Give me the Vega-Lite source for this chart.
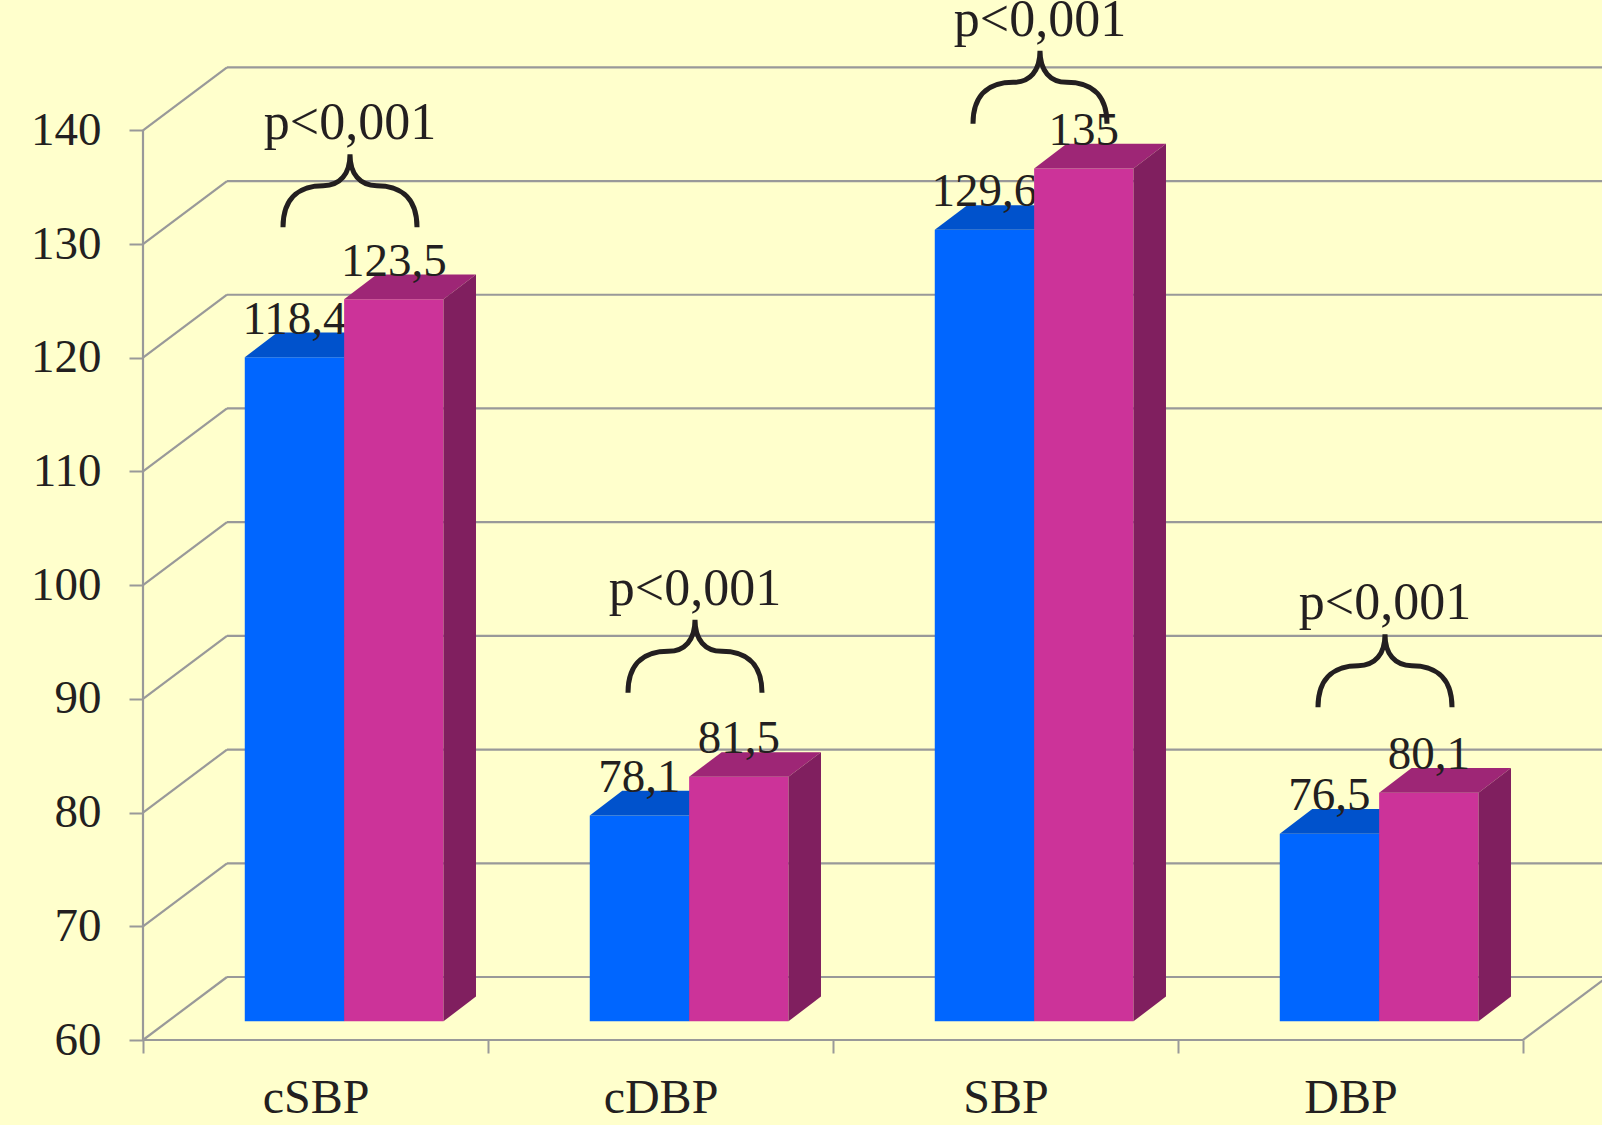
{
  "$schema": "https://vega.github.io/schema/vega-lite/v6.json",
  "width": 1459,
  "height": 1040,
  "autosize": {"type": "none"},
  "padding": {"left": 143, "top": 0, "right": 0, "bottom": 85},
  "background": "#FFFFCC",
  "config": {"view": {"stroke": null}},
  "resolve": {"axis": {"x": "independent", "y": "independent"}},
  "datasets": {
    "bars": [
      {"group": "cSBP", "series": "A", "value": 118.4},
      {"group": "cSBP", "series": "B", "value": 123.5},
      {"group": "cDBP", "series": "A", "value": 78.1},
      {"group": "cDBP", "series": "B", "value": 81.5},
      {"group": "SBP", "series": "A", "value": 129.6},
      {"group": "SBP", "series": "B", "value": 135},
      {"group": "DBP", "series": "A", "value": 76.5},
      {"group": "DBP", "series": "B", "value": 80.1}
    ],
    "grid": [
      {"v": 60}, {"v": 70}, {"v": 80}, {"v": 90}, {"v": 100},
      {"v": 110}, {"v": 120}, {"v": 130}, {"v": 140}
    ],
    "notes": [
      {"group": "cSBP", "p": "p<0,001", "level": 137.9},
      {"group": "cDBP", "p": "p<0,001", "level": 96.95},
      {"group": "SBP", "p": "p<0,001", "level": 146.99},
      {"group": "DBP", "p": "p<0,001", "level": 95.69}
    ]
  },
  "layer": [
    {
      "data": {"name": "grid"},
      "transform": [
        {"calculate": "datum.v + 5.54", "as": "vb"},
        {"calculate": "0", "as": "wall0"},
        {"calculate": "0.2435", "as": "wall1"}
      ],
      "mark": {"type": "rule", "color": "#999999", "strokeWidth": 2.2},
      "encoding": {
        "x": {
          "field": "wall0", "type": "quantitative",
          "scale": {"domain": [0, 4.229], "nice": false, "zero": false},
          "axis": {
            "orient": "bottom",
            "values": [0, 1, 2, 3, 4],
            "labelExpr": "datum.value < 4 ? ['cSBP','cDBP','SBP','DBP'][datum.value] : ''",
            "labelOffset": 172.5,
            "domain": false, "grid": false,
            "tickSize": 13, "tickWidth": 2, "tickColor": "#999999",
            "labelFont": "Liberation Serif", "labelFontSize": 48, "labelColor": "#231F20",
            "labelPadding": 21, "labelFlush": false, "labelBound": false, "labelOverlap": false,
            "title": null
          }
        },
        "x2": {"field": "wall1"},
        "y": {
          "field": "v", "type": "quantitative",
          "scale": {"domain": [60, 151.46], "nice": false, "zero": false},
          "axis": {
            "orient": "left",
            "values": [60, 70, 80, 90, 100, 110, 120, 130, 140],
            "domain": false, "grid": false,
            "tickSize": 14, "tickWidth": 2, "tickColor": "#999999",
            "labelFont": "Liberation Serif", "labelFontSize": 47, "labelColor": "#231F20",
            "labelPadding": 28, "labelFlush": false, "labelBound": false, "labelOverlap": false,
            "title": null
          }
        },
        "y2": {"field": "vb"}
      }
    },
    {
      "data": {"name": "grid"},
      "transform": [{"calculate": "datum.v + 5.54", "as": "vb"}],
      "mark": {"type": "rule", "color": "#999999", "strokeWidth": 2.2},
      "encoding": {
        "x": {"datum": 0.2435, "type": "quantitative", "axis": null},
        "x2": {"datum": 4.4},
        "y": {"field": "vb", "type": "quantitative", "axis": null}
      }
    },
    {
      "data": {"values": [{}]},
      "mark": {"type": "rule", "color": "#999999", "strokeWidth": 2.2},
      "encoding": {
        "x": {"datum": 0, "type": "quantitative", "axis": null},
        "y": {"datum": 60, "type": "quantitative", "axis": null},
        "y2": {"datum": 140}
      }
    },
    {
      "data": {"values": [{}]},
      "mark": {"type": "rule", "color": "#999999", "strokeWidth": 2.2},
      "encoding": {
        "x": {"datum": 0, "type": "quantitative", "axis": null},
        "x2": {"datum": 4},
        "y": {"datum": 60, "type": "quantitative", "axis": null}
      }
    },
    {
      "data": {"values": [{}]},
      "mark": {"type": "rule", "color": "#999999", "strokeWidth": 2.2},
      "encoding": {
        "x": {"datum": 4, "type": "quantitative", "axis": null},
        "x2": {"datum": 4.2435},
        "y": {"datum": 60, "type": "quantitative", "axis": null},
        "y2": {"datum": 65.54}
      }
    },
    {
      "data": {"name": "bars"},
      "transform": [
        {"filter": "datum.series === 'A'"},
        {"calculate": "indexof(['cSBP','cDBP','SBP','DBP'], datum.group)", "as": "gi"},
        {"calculate": "datum.gi + 0.295 + (datum.series === 'B' ? 0.288 : 0)", "as": "x0"},
        {"calculate": "datum.x0 + 0.288", "as": "x1"},
        {"calculate": "datum.x0 + 0.144", "as": "xc"},
        {"calculate": "61.645", "as": "base"},
        {"calculate": "datum.value + 1.645", "as": "top"},
        {"calculate": "replace(format(datum.value, '~g'), '.', ',')", "as": "lbl"},
        {"calculate": "[0, 1]", "as": "t"},
        {"flatten": ["t"]},
        {"calculate": "datum.x0 + datum.t * 0.0942", "as": "tx0"},
        {"calculate": "datum.x1 + datum.t * 0.0942", "as": "tx1"},
        {"calculate": "datum.top + datum.t * 2.17", "as": "ty"},
        {"calculate": "datum.base + datum.t * 2.17", "as": "ty2"}
      ],
      "layer": [
        {
          "transform": [{"filter": "datum.t === 0"}],
          "mark": {"type": "rect", "color": "#0066FF"},
          "encoding": {
            "x": {"field": "x0", "type": "quantitative", "axis": null},
            "x2": {"field": "x1"},
            "y": {"field": "base", "type": "quantitative", "axis": null},
            "y2": {"field": "top"}
          }
        },
        {
          "mark": {"type": "area", "orient": "horizontal", "color": "#0052CC"},
          "encoding": {
            "x": {"field": "tx0", "type": "quantitative", "stack": null, "axis": null},
            "x2": {"field": "tx1"},
            "y": {"field": "ty", "type": "quantitative", "axis": null},
            "detail": {"field": "group"}
          }
        },
        {
          "mark": {"type": "area", "orient": "vertical", "color": "#003F9E"},
          "encoding": {
            "x": {"field": "tx1", "type": "quantitative", "axis": null},
            "y": {"field": "ty", "type": "quantitative", "stack": null, "axis": null},
            "y2": {"field": "ty2"},
            "detail": {"field": "group"}
          }
        },
        {
          "transform": [{"filter": "datum.t === 0"}],
          "mark": {"type": "text", "font": "Liberation Serif", "fontSize": 47, "color": "#231F20", "align": "center", "baseline": "alphabetic", "dy": -23.5},
          "encoding": {
            "x": {"field": "xc", "type": "quantitative", "axis": null},
            "y": {"field": "top", "type": "quantitative", "axis": null},
            "text": {"field": "lbl"}
          }
        }
      ]
    },
    {
      "data": {"name": "bars"},
      "transform": [
        {"filter": "datum.series === 'B'"},
        {"calculate": "indexof(['cSBP','cDBP','SBP','DBP'], datum.group)", "as": "gi"},
        {"calculate": "datum.gi + 0.295 + (datum.series === 'B' ? 0.288 : 0)", "as": "x0"},
        {"calculate": "datum.x0 + 0.288", "as": "x1"},
        {"calculate": "datum.x0 + 0.144", "as": "xc"},
        {"calculate": "61.645", "as": "base"},
        {"calculate": "datum.value + 1.645", "as": "top"},
        {"calculate": "replace(format(datum.value, '~g'), '.', ',')", "as": "lbl"},
        {"calculate": "[0, 1]", "as": "t"},
        {"flatten": ["t"]},
        {"calculate": "datum.x0 + datum.t * 0.0942", "as": "tx0"},
        {"calculate": "datum.x1 + datum.t * 0.0942", "as": "tx1"},
        {"calculate": "datum.top + datum.t * 2.17", "as": "ty"},
        {"calculate": "datum.base + datum.t * 2.17", "as": "ty2"}
      ],
      "layer": [
        {
          "transform": [{"filter": "datum.t === 0"}],
          "mark": {"type": "rect", "color": "#CC3399"},
          "encoding": {
            "x": {"field": "x0", "type": "quantitative", "axis": null},
            "x2": {"field": "x1"},
            "y": {"field": "base", "type": "quantitative", "axis": null},
            "y2": {"field": "top"}
          }
        },
        {
          "mark": {"type": "area", "orient": "horizontal", "color": "#9E2676"},
          "encoding": {
            "x": {"field": "tx0", "type": "quantitative", "stack": null, "axis": null},
            "x2": {"field": "tx1"},
            "y": {"field": "ty", "type": "quantitative", "axis": null},
            "detail": {"field": "group"}
          }
        },
        {
          "mark": {"type": "area", "orient": "vertical", "color": "#801F5F"},
          "encoding": {
            "x": {"field": "tx1", "type": "quantitative", "axis": null},
            "y": {"field": "ty", "type": "quantitative", "stack": null, "axis": null},
            "y2": {"field": "ty2"},
            "detail": {"field": "group"}
          }
        },
        {
          "transform": [{"filter": "datum.t === 0"}],
          "mark": {"type": "text", "font": "Liberation Serif", "fontSize": 47, "color": "#231F20", "align": "center", "baseline": "alphabetic", "dy": -23.5},
          "encoding": {
            "x": {"field": "xc", "type": "quantitative", "axis": null},
            "y": {"field": "top", "type": "quantitative", "axis": null},
            "text": {"field": "lbl"}
          }
        }
      ]
    },
    {
      "data": {"name": "notes"},
      "transform": [
        {"calculate": "indexof(['cSBP','cDBP','SBP','DBP'], datum.group) + 0.6", "as": "bx"}
      ],
      "layer": [
        {
          "mark": {
            "type": "point",
            "shape": "M-1,1.09C-1,0.6 -0.7,0.47 -0.4,0.47C-0.15,0.47 0,0.3 0,0C0,0.3 0.15,0.47 0.4,0.47C0.7,0.47 1,0.6 1,1.09",
            "filled": false,
            "opacity": 1,
            "stroke": "#231F20",
            "strokeWidth": 5,
            "size": 17956
          },
          "encoding": {
            "x": {"field": "bx", "type": "quantitative", "axis": null},
            "y": {"field": "level", "type": "quantitative", "axis": null}
          }
        },
        {
          "mark": {"type": "text", "font": "Liberation Serif", "fontSize": 52, "color": "#231F20", "align": "center", "baseline": "alphabetic", "dy": -14.8},
          "encoding": {
            "x": {"field": "bx", "type": "quantitative", "axis": null},
            "y": {"field": "level", "type": "quantitative", "axis": null},
            "text": {"field": "p"}
          }
        }
      ]
    }
  ]
}
